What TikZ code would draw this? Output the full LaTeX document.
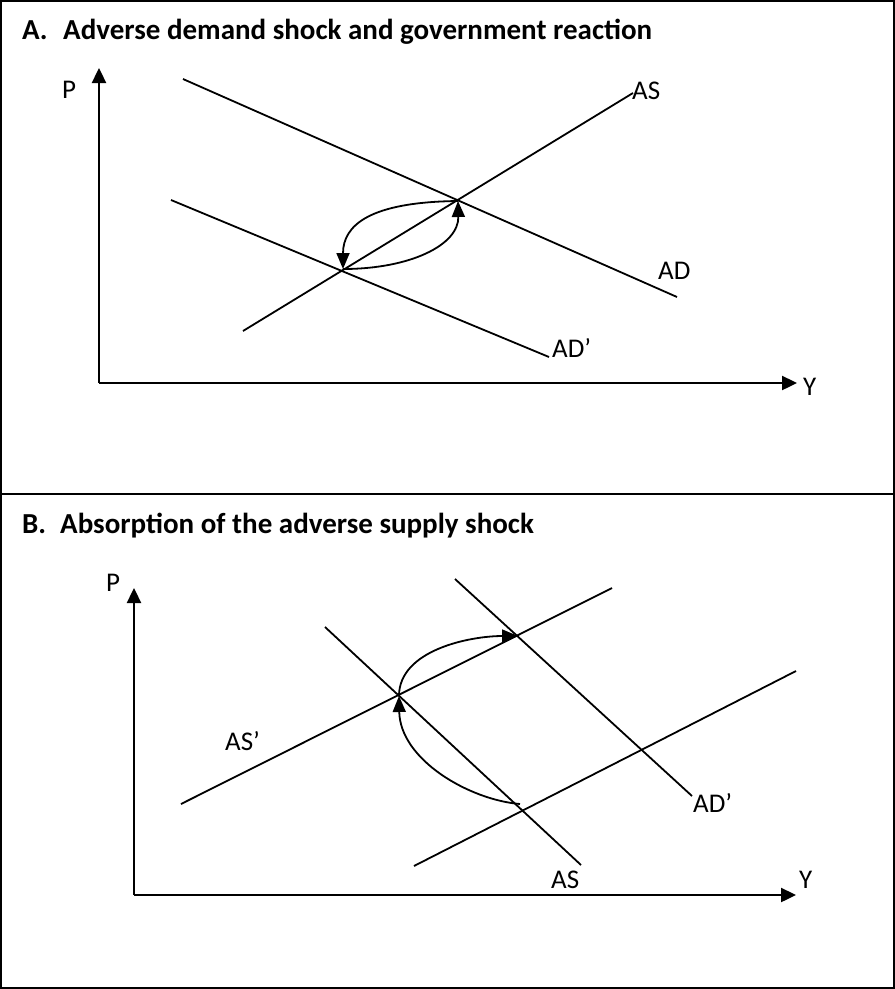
\documentclass[tikz,border=0pt]{standalone}
\usepackage{fontspec}
\setmainfont{Carlito}
\usetikzlibrary{arrows.meta}
\begin{document}
\begin{tikzpicture}[x=1pt,y=-1pt,
  curve/.style={line width=1.8pt},
  axis/.style={line width=2.4pt,-{Triangle[length=15pt,width=14pt]}},
  flow/.style={line width=1.8pt,-{Triangle[length=16pt,width=13pt]}},
  lbl/.style={inner sep=0pt,anchor=base west,font=\fontsize{27}{31}\selectfont},
  ttl/.style={inner sep=0pt,anchor=base west,font=\fontsize{29}{34}\selectfont\bfseries},
  frame/.style={line width=2pt}]
\useasboundingbox (0,0) rectangle (895,989);
% frame
\draw[frame] (1,1) rectangle (894,988);
\coordinate (divL) at (1,494);
\coordinate (divR) at (894,494);
\draw[frame] (divL) -- (divR);

% ---------------- Panel A ----------------
\node[ttl] (titleA) at (22,39) {\makebox[41pt][l]{A.}Adverse demand shock and government reaction};
\coordinate (oA) at (99,383);
\coordinate (pA) at (99,68);
\coordinate (yA) at (797,383);
\draw[axis] (oA) -- (pA);
\draw[axis] (oA) -- (yA);
\node[lbl] (PA) at (62,98) {P};
\node[lbl] (YA) at (803,395) {Y};

\coordinate (ad1) at (183,79);
\coordinate (ad2) at (677,297);
\coordinate (adp1) at (171,200);
\coordinate (adp2) at (549,357);
\coordinate (as1) at (243,331);
\coordinate (as2) at (633,93);
\draw[curve] (ad1) -- (ad2);
\draw[curve] (adp1) -- (adp2);
\draw[curve] (as1) -- (as2);
\node[lbl] (ASA) at (632,99) {AS};
\node[lbl] (ADA) at (658,279) {AD};
\node[lbl] (ADpA) at (552,357) {AD’};

\coordinate (eA1) at (458,201);
\coordinate (eA2) at (343,269);
\draw[flow] (eA1) .. controls (370,202) and (343,225) .. (eA2);
\draw[flow] (eA2) .. controls (410,269) and (459,245) .. (eA1);

% ---------------- Panel B ----------------
\node[ttl] (titleB) at (22,533) {\makebox[38pt][l]{B.}Absorption of the adverse supply shock};
\coordinate (oB) at (134,895);
\coordinate (pB) at (134,588);
\coordinate (yB) at (796,895);
\draw[axis] (oB) -- (pB);
\draw[axis] (oB) -- (yB);
\node[lbl] (PB) at (106,591) {P};
\node[lbl] (YB) at (799,888) {Y};

\coordinate (asp1) at (181,804);
\coordinate (asp2) at (612,588);
\coordinate (asb1) at (414,866);
\coordinate (asb2) at (796,671);
\coordinate (d11) at (325,627);
\coordinate (d12) at (581,865);
\coordinate (d21) at (455,579);
\coordinate (d22) at (692,796);
\draw[curve] (asp1) -- (asp2);
\draw[curve] (asb1) -- (asb2);
\draw[curve] (d11) -- (d12);
\draw[curve] (d21) -- (d22);
\node[lbl] (ASpB) at (225,750) {AS’};
\node[lbl] (ADpB) at (693,812) {AD’};
\node[lbl] (ASB) at (551,888) {AS};

\coordinate (eB0) at (520,804);
\coordinate (eB1) at (399,696);
\coordinate (eB2) at (518,636);
\draw[flow] (eB0) .. controls (470,800) and (400,760) .. (eB1);
\draw[flow] (eB1) .. controls (399,650) and (470,636) .. (eB2);
\end{tikzpicture}
\end{document}
